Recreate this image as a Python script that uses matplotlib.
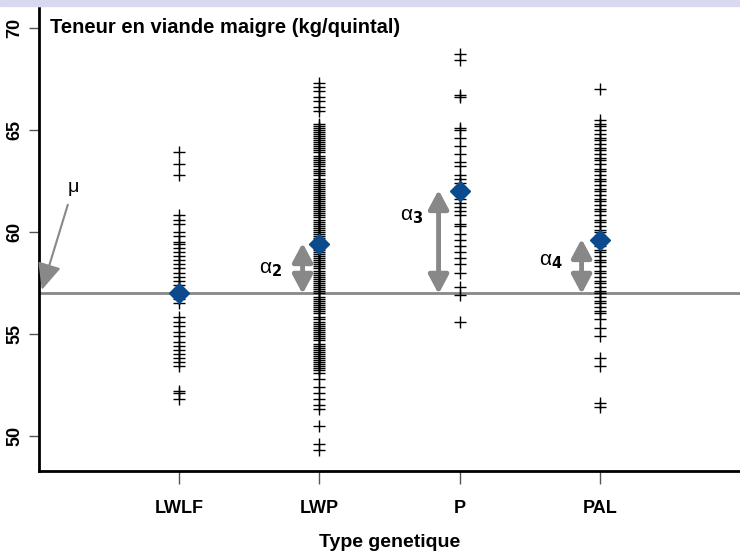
import matplotlib.pyplot as plt
from matplotlib.patches import Rectangle

plt.rcParams['font.family'] = ['Liberation Sans', 'DejaVu Sans']
plt.rcParams['mathtext.default'] = 'regular'

# Données (teneur en viande maigre, kg/quintal)
categories = ["LWLF", "LWP", "P", "PAL"]

lwlf = [63.9, 63.3, 62.8, 60.8, 60.6, 60.4, 60.0, 59.8, 59.5, 59.4, 59.2, 59.0,
        58.8, 58.6, 58.4, 58.2, 58.0, 57.8, 57.6, 57.4, 57.2, 57.0, 56.9, 56.8,
        56.7, 56.5, 55.8, 55.6, 55.4, 55.1, 54.9, 54.6, 54.4, 54.2, 54.0, 53.8,
        53.6, 53.4, 52.2, 52.1, 51.8]

lwp = [67.3, 67.1, 66.9, 66.6, 66.4, 66.1, 65.9,
       65.3, 65.2, 65.1, 65.0, 64.9, 64.8, 64.7, 64.6, 64.5, 64.4, 64.3, 64.2,
       64.1, 64.0, 63.9, 63.7, 63.6, 63.5, 63.4, 63.3, 63.2, 63.1, 63.0, 62.9,
       62.8, 62.6, 62.5, 62.4, 62.3, 62.2, 62.1, 62.0, 61.9, 61.8, 61.7, 61.6,
       61.5, 61.4, 61.3, 61.2, 61.1, 61.0, 60.9, 60.8, 60.7, 60.6, 60.5, 60.4,
       60.3, 60.2, 60.1, 60.0, 59.9, 59.8, 59.7, 59.6, 59.5, 59.4, 59.3, 59.2,
       59.1, 59.0, 58.9, 58.8, 58.7, 58.6, 58.5, 58.4, 58.3, 58.2, 58.1, 58.0,
       57.9, 57.8, 57.7, 57.6, 57.5, 57.4, 57.3, 57.2, 57.1, 57.0, 56.8, 56.7,
       56.6, 56.5, 56.4, 56.3, 56.2, 56.1, 56.0, 55.8, 55.7, 55.6, 55.5, 55.4,
       55.3, 55.2, 55.1, 55.0, 54.9, 54.8, 54.7, 54.5, 54.4, 54.3, 54.2, 54.1,
       54.0, 53.9, 53.8, 53.7, 53.6, 53.5, 53.4, 53.3, 53.2, 53.1,
       52.8, 52.4, 52.1, 51.8, 51.5, 51.3, 50.5, 49.6, 49.3]

p = [68.7, 68.4, 66.7, 66.6, 65.1, 65.0, 64.6, 64.2, 63.8, 63.4, 63.2, 62.8,
     62.6, 62.4, 62.2, 61.8, 61.6, 61.4, 61.2, 61.0, 60.8, 60.4, 60.3, 59.9,
     59.6, 59.3, 59.0, 58.7, 58.4, 58.0, 57.3, 56.9, 55.6]

pal = [67.0,
       65.5, 65.3, 65.2, 65.0, 64.8, 64.6, 64.5, 64.3, 64.1, 64.0, 63.8, 63.6,
       63.5, 63.3, 63.1, 63.0, 62.8, 62.6, 62.5, 62.3, 62.1, 62.0, 61.8, 61.6,
       61.5, 61.3, 61.1, 61.0, 60.8, 60.6, 60.5, 60.3, 60.1, 60.0, 59.8, 59.6,
       59.5, 59.3, 59.1, 59.0, 58.8, 58.6, 58.5, 58.3, 58.1, 58.0, 57.8, 57.6,
       57.5, 57.3, 57.1, 57.0, 56.8, 56.6, 56.5, 56.3, 56.1, 56.0, 55.7,
       55.3, 54.9, 53.8, 53.4, 51.6, 51.4]

groupes = [lwlf, lwp, p, pal]
moyennes = [57.0, 59.4, 62.0, 59.6]
mu = 57.0
alpha_labels = [None, r"$\alpha_{\mathbf{2}}$", r"$\alpha_{\mathbf{3}}$", r"$\alpha_{\mathbf{4}}$"]

fig = plt.figure(figsize=(7.4, 5.52), dpi=100)
fig.patches.append(Rectangle((0, 0.99), 1, 0.01, transform=fig.transFigure,
                             color="#d8d8f0", zorder=0))
ax = fig.add_axes([0.0527, 0.1467, 0.9473, 0.8388])

# Ligne de la moyenne générale
ax.axhline(mu, color="#888888", lw=2, zorder=1)

# décalages des flèches alpha et de leurs étiquettes (unités des axes)
dx_fleche = [0.0, -0.12, -0.15, -0.13]
pos_label = [None, (0.65, 58.15), (0.66, 60.75), (0.65, 58.55)]

for i, vals in enumerate(groupes):
    x = [i + 1] * len(vals)
    ax.plot(x, vals, ls="none", marker="+", ms=9, mew=1.0, color="black", zorder=2)
    ax.plot(i + 1, moyennes[i], ls="none", marker="D", ms=10, color="#0b4a8c",
            zorder=4)
    if alpha_labels[i]:
        xa = i + 1 + dx_fleche[i]
        ax.annotate("", xy=(xa, moyennes[i] + 0.05), xytext=(xa, mu - 0.05),
                    arrowprops=dict(arrowstyle="<|-|>,head_length=0.75,head_width=0.4",
                                    lw=3.5, color="#888888", shrinkA=0, shrinkB=0,
                                    mutation_scale=15), zorder=3)
        ax.text(i + pos_label[i][0], pos_label[i][1], alpha_labels[i],
                fontsize=15, ha="center", va="center")

# Flèche vers mu
ax.annotate(r"$\mu$", xy=(0.02, 57.15), xytext=(0.24, 62.1),
            fontsize=14, ha="center", va="center",
            arrowprops=dict(arrowstyle="-|>,head_length=0.9,head_width=0.4",
                            lw=1.5, color="#888888", shrinkA=3, shrinkB=0,
                            mutation_scale=18))

ax.text(0.08, 70.0, "Teneur en viande maigre (kg/quintal)", fontsize=14.5,
        fontweight="bold", ha="left", va="center")

ax.set_xlim(0, 5)
ax.set_ylim(48.27, 70.97)
ax.set_xticks(range(1, 5))
ax.set_xticklabels(categories, fontweight="bold", fontsize=13)
ax.set_yticks([50, 55, 60, 65, 70])
ax.set_yticklabels(["50", "55", "60", "65", "70"], fontweight="bold", fontsize=13,
                   rotation=90, va="center")
ax.tick_params(axis="x", length=9, width=1, pad=12, color="#555555")
ax.tick_params(axis="y", length=7, width=1, pad=4, color="#555555")
ax.set_xlabel("Type genetique", fontweight="bold", fontsize=14, labelpad=12)

for side in ["top", "right"]:
    ax.spines[side].set_visible(False)
ax.spines["left"].set_linewidth(2)
ax.spines["bottom"].set_linewidth(2)

fig.savefig("out.png", dpi=100)
